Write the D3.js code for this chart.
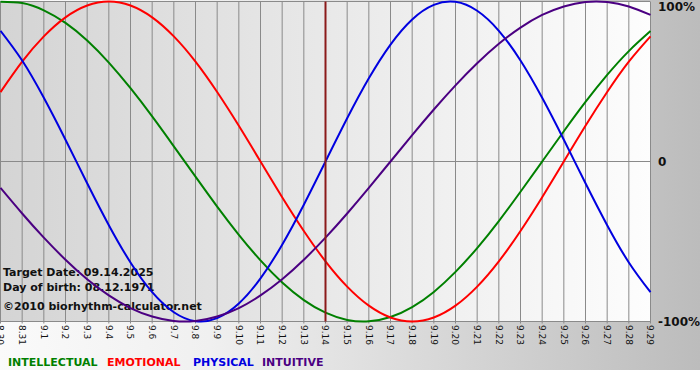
<!DOCTYPE html>
<html><head><meta charset="utf-8">
<script src="https://cdn.jsdelivr.net/npm/d3@7"></script>
<style>
html,body{margin:0;padding:0;background:#fff;}
svg{display:block;}
</style>
</head><body>
<svg id="chart" width="700" height="380"></svg>
<script>
const days = ["8.30","8.31","9.1","9.2","9.3","9.4","9.5","9.6","9.7","9.8","9.9","9.10","9.11","9.12","9.13","9.14","9.15","9.16","9.17","9.18","9.19","9.20","9.21","9.22","9.23","9.24","9.25","9.26","9.27","9.28","9.29"];
const intellectual = [0.999,0.990,0.945,0.866,0.756,0.618,0.458,0.282,0.095,-0.095,-0.282,-0.458,-0.618,-0.756,-0.866,-0.945,-0.990,-0.999,-0.972,-0.910,-0.815,-0.690,-0.541,-0.372,-0.189,0,0.189,0.372,0.541,0.690,0.815];
const emotional = [0.434,0.624,0.782,0.901,0.975,1.0,0.975,0.901,0.782,0.624,0.434,0.223,0,-0.223,-0.434,-0.624,-0.782,-0.901,-0.975,-1.0,-0.975,-0.901,-0.782,-0.624,-0.434,-0.223,0,0.223,0.434,0.624,0.782];
const physical = [0.817,0.631,0.398,0.136,-0.136,-0.398,-0.631,-0.817,-0.942,-0.998,-0.979,-0.888,-0.731,-0.520,-0.270,0,0.270,0.520,0.731,0.888,0.979,0.998,0.942,0.817,0.631,0.398,0.136,-0.136,-0.398,-0.631,-0.817];
const intuitive = [-0.165,-0.325,-0.476,-0.614,-0.736,-0.837,-0.916,-0.969,-0.997,-0.997,-0.969,-0.916,-0.837,-0.736,-0.614,-0.476,-0.325,-0.165,0,0.165,0.325,0.476,0.614,0.736,0.837,0.916,0.969,0.997,0.997,0.969,0.916];
const seriesNames = ["INTELLECTUAL","EMOTIONAL","PHYSICAL","INTUITIVE"];
const seriesColors = ["#008000","#ff0000","#0000e0","#4b0082"];
const yTickValues = [1,0,-1];
const yTickLabels = ["100%","0","-100%"];
const targetIndex = 15;
const infoLines = ["Target Date: 09.14.2025","Day of birth: 08.12.1971","\u00A92010 biorhythm-calculator.net"];

const svg = d3.select("#chart");
const W = 700, H = 380;
const defs = svg.append("defs");
const g1 = defs.append("linearGradient").attr("id","outerGrad").attr("x1","0").attr("x2","1").attr("y1","0").attr("y2","0");
g1.append("stop").attr("offset","0").attr("stop-color","#fafafa");
g1.append("stop").attr("offset","0.3").attr("stop-color","#f0f0f0");
g1.append("stop").attr("offset","1").attr("stop-color","#bcbcbc");
const g2 = defs.append("linearGradient").attr("id","plotGrad").attr("x1","0").attr("x2","1").attr("y1","0").attr("y2","0");
g2.append("stop").attr("offset","0").attr("stop-color","#d4d4d4");
g2.append("stop").attr("offset","1").attr("stop-color","#fdfdfd");

svg.append("rect").attr("x",0).attr("y",0).attr("width",W).attr("height",370).attr("fill","url(#outerGrad)");

const x = d3.scaleLinear().domain([0, days.length-1]).range([0.5, 650.5]);
const y = d3.scaleLinear().domain([-1,1]).range([321.5, 1.5]);

svg.append("rect").attr("x",0).attr("y",1).attr("width",651).attr("height",320).attr("fill","url(#plotGrad)");

// vertical grid
svg.append("g").selectAll("line").data(days).join("line")
  .attr("x1",(d,i)=>x(i)).attr("x2",(d,i)=>x(i))
  .attr("y1",y(1)).attr("y2",y(-1)+2)
  .attr("stroke","#8a8a8a").attr("stroke-width",1);
// horizontal lines
svg.append("g").selectAll("line").data(yTickValues).join("line")
  .attr("x1",x(0)).attr("x2",x(days.length-1))
  .attr("y1",d=>y(d)).attr("y2",d=>y(d))
  .attr("stroke","#8a8a8a").attr("stroke-width",1);

// y labels
svg.append("g").selectAll("text").data(yTickValues).join("text")
  .attr("x",658).attr("y",(d)=>y(d)).attr("dy",(d,i)=> i===0 ? "0.75em" : (i===1 ? "0.4em" : "0.35em"))
  .attr("font-family","DejaVu Sans").attr("font-weight","bold").attr("font-size","12px").attr("fill","#111")
  .text((d,i)=>yTickLabels[i]);

// x tick labels
svg.append("g").selectAll("text").data(days).join("text")
  .attr("transform",(d,i)=>`translate(${x(i)},325) rotate(90)`)
  .attr("dy","0.35em")
  .attr("font-family","DejaVu Sans").attr("font-size","9px").attr("fill","#111")
  .text(d=>d);

// info text
svg.append("g").selectAll("text").data(infoLines).join("text")
  .attr("x",3).attr("y",(d,i)=>[276,291,310][i])
  .attr("font-family","DejaVu Sans").attr("font-weight","bold").attr("font-size","11px").attr("fill","#111")
  .text(d=>d);

// curves
const allSeries = [intellectual, emotional, physical, intuitive];
const line = d3.line().x((d,i)=>x(i)).y(d=>y(d)).curve(d3.curveNatural);
svg.append("g").selectAll("path").data(allSeries).join("path")
  .attr("d",d=>line(d)).attr("fill","none")
  .attr("stroke",(d,i)=>seriesColors[i]).attr("stroke-width",2);

// target line
svg.append("line").attr("x1",x(targetIndex)).attr("x2",x(targetIndex))
  .attr("y1",y(1)).attr("y2",y(-1)).attr("stroke","#8b1a1a").attr("stroke-width",2);

// legend
const legend = svg.append("text").attr("x",8).attr("y",366)
  .attr("font-family","DejaVu Sans").attr("font-weight","bold").attr("font-size","11px");
legend.selectAll("tspan").data(seriesNames).join("tspan")
  .attr("x",(d,i)=>[8,107,193,262][i])
  .attr("fill",(d,i)=>seriesColors[i]).text(d=>d);
</script>
</body></html>
